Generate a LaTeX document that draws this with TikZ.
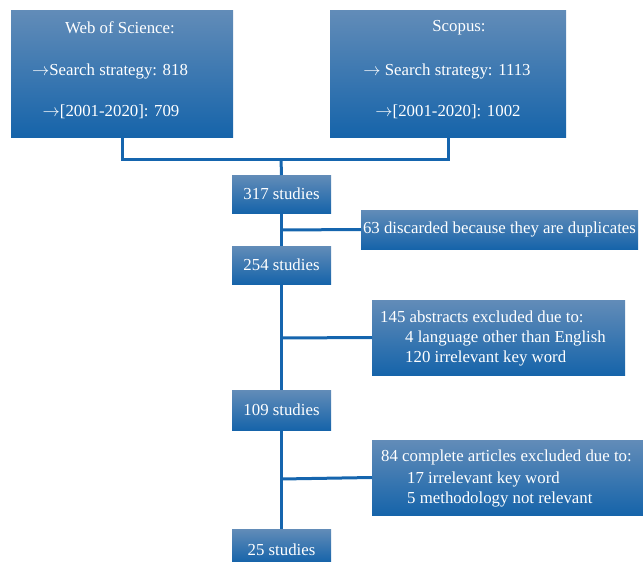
\documentclass[tikz,border=0pt]{standalone}
\usepackage{fontspec}
\setmainfont{Liberation Serif}
\definecolor{btop}{RGB}{98,140,184}
\definecolor{bbot}{RGB}{22,100,170}
\definecolor{lnc}{RGB}{21,101,174}
\newcommand{\rarr}{\ensuremath{\rightarrow}}
\begin{document}
\begin{tikzpicture}[x=1pt,y=-1pt,
  box/.style={anchor=north west,inner sep=0pt,outer sep=0pt,top color=btop,bottom color=bbot,draw=none},
  txt/.style={text=white,inner sep=0pt,font=\fontsize{16.8}{20.5}\selectfont},
  conn/.style={draw=lnc,line width=3pt}]
\useasboundingbox (0,0) rectangle (643,562);
% top boxes
\node[box,minimum width=222pt,minimum height=127pt] (wos) at (11,10) {};
\node[box,minimum width=236pt,minimum height=127pt] (sco) at (330,10) {};
\node[txt] (wos1) at (120,28) {Web of Science:};
\node[txt] (wos2) at (110,71) {\rarr Search strategy: 818};
\node[txt] (wos3) at (111,112) {\rarr[2001-2020]: 709};
\node[txt] (sco1) at (459,28) {Scopus:};
\node[txt] (sco2) at (447,71) {\rarr\ Search strategy: 1113};
\node[txt] (sco3) at (448,112) {\rarr[2001-2020]: 1002};
% studies boxes
\node[box,minimum width=99pt,minimum height=38pt] (s317) at (232,175) {};
\node[txt] at (s317.center) {317 studies};
\node[box,minimum width=99pt,minimum height=38pt] (s254) at (232,246) {};
\node[txt] at (s254.center) {254 studies};
\node[box,minimum width=99pt,minimum height=40pt] (s109) at (232,390) {};
\node[txt] at (s109.center) {109 studies};
\node[box,minimum width=99pt,minimum height=33pt] (s25) at (232,529) {};
\node[txt] at ([yshift=-4pt]s25.center) {25 studies};
% side boxes
\node[box,minimum width=277pt,minimum height=39pt] (d63) at (361,210) {};
\node[txt] at (d63.center) {63 discarded because they are duplicates};
\node[box,minimum width=253pt,minimum height=75pt] (a145) at (372,300) {};
\node[txt,anchor=west] (a1) at (380,317) {145 abstracts excluded due to:};
\node[txt,anchor=west] (a2) at (405,338) {4 language other than English};
\node[txt,anchor=west] (a3) at (405,358) {120 irrelevant key word};
\node[box,minimum width=271pt,minimum height=75pt] (c84) at (372,440) {};
\node[txt,anchor=west] (c1) at (381,457) {84 complete articles excluded due to:};
\node[txt,anchor=west] (c2) at (407,479) {17 irrelevant key word};
\node[txt,anchor=west] (c3) at (407,499) {5 methodology not relevant};
% connectors
\coordinate (j0) at (281,159);
\coordinate (j1) at (281,230);
\coordinate (j2) at (281,338);
\coordinate (j3) at (281,479);
\draw[conn] (wos.south) |- (j0) -| (sco.south);
\draw[conn] (j0) -- (s317.north);
\draw[conn] (s317.south) -- (s254.north);
\draw[conn] (j1) -- (d63.west);
\draw[conn] (s254.south) -- (s109.north);
\draw[conn] (j2) -- (a145.west);
\draw[conn] (s109.south) -- (s25.north);
\draw[conn] (j3) -- (c84.west);
\end{tikzpicture}
\end{document}
